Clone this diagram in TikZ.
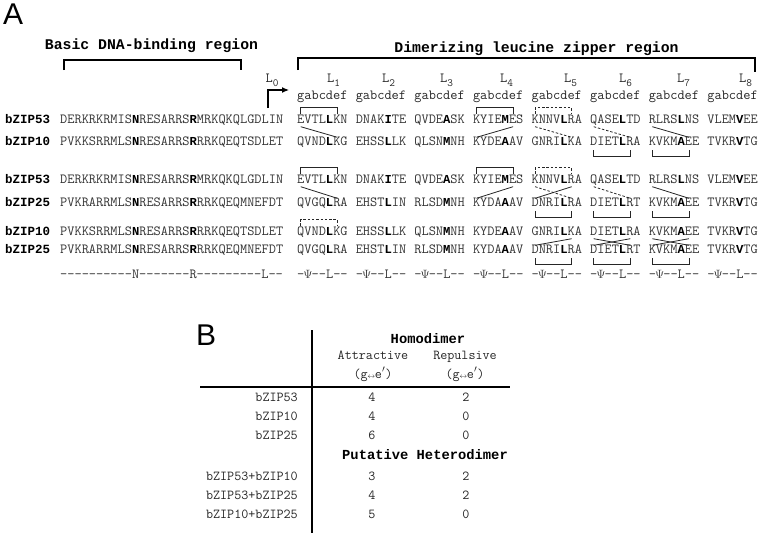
\documentclass[tikz,border=0pt]{standalone}
\usepackage{fontspec}
\newfontfamily\sansA{Liberation Sans}
\newfontfamily\courB{Liberation Mono}
\usetikzlibrary{arrows.meta}
\newcommand\bl[1]{{\fontsize{12.2}{14}\courB\bfseries\color{black}#1}}
\newcommand\hy{\mbox{-}}
\newcommand\Ps{\makebox[0.525em][c]{\fontsize{11.5}{11}\selectfont$\Psi$}}
\newcommand\seqrow[5]{%
  \node[lbl] (lab#1) at (5,#2) {#3};%
  \node[seq] (nt#1) at (60,#2) {#4};%
  \foreach \t [count=\i] in {#5} {\node[seq] (r#1h\i) at ({297+58.6*(\i-1)},#2) {\t};}%
}
\newcommand\GtoE[3][]{\draw[cn,#1] ([xshift=3.7pt]#2.south west) -- ([xshift=40.3pt]#3.north west);}
\newcommand\EtoG[3][]{\draw[cn,#1] ([xshift=40.3pt]#2.south west) -- ([xshift=3.7pt]#3.north west);}
\newcommand\BrUp[2][]{\draw[cn,#1] ([xshift=3.7pt,yshift=1.5pt]#2.north west) -- ++(0,6) -| ([xshift=40.3pt,yshift=1.5pt]#2.north west);}
\newcommand\BrDn[2][]{\draw[cn,#1] ([xshift=3.7pt,yshift=-1.5pt]#2.south west) -- ++(0,-6) -| ([xshift=40.3pt,yshift=-1.5pt]#2.south west);}
\begin{document}
\begin{tikzpicture}[x=1pt,y=1pt,
  seq/.style={anchor=base west,inner sep=0pt,text height=8pt,text depth=3pt,font=\ttfamily\fontsize{13.95}{16}\selectfont,text=black!80},
  hdr/.style={anchor=base west,inner sep=0pt,font=\ttfamily\fontsize{13.95}{16}\selectfont,text=black!85},
  lbl/.style={anchor=base west,inner sep=0pt,font=\courB\bfseries\fontsize{12.5}{14}\selectfont},
  ttl/.style={anchor=base,inner sep=0pt,font=\courB\bfseries\fontsize{14.8}{16}\selectfont},
  big/.style={anchor=base west,inner sep=0pt,font=\sansA\fontsize{30}{30}\selectfont},
  cn/.style={line width=0.8pt,black!85},
  dsh/.style={dash pattern=on 2.5pt off 1.8pt},
  bigbr/.style={line width=1.3pt},
  tb/.style={anchor=base,inner sep=0pt,font=\ttfamily\fontsize{13.7}{15}\selectfont,text=black!85},
  tbr/.style={anchor=base east,inner sep=0pt,font=\ttfamily\fontsize{13.7}{15}\selectfont,text=black!85},
  tbh/.style={anchor=base,inner sep=0pt,font=\courB\bfseries\fontsize{13.8}{16}\selectfont},
  tl/.style={line width=1.3pt}]
\useasboundingbox (0,0) rectangle (760,-536);

% ---------- Panel A ----------
\node[big] (A) at (3,-24) {A};
\node[ttl] (basic) at (151.5,-49) {Basic DNA-binding region};
\node[ttl] (dimer) at (536.5,-52) {Dimerizing leucine zipper region};
\draw[bigbr] (64,-70) |- (241,-60) -- (241,-70);
\draw[bigbr] (298,-70) |- (755,-58) -- (755,-72);

% heptad header
\foreach \i in {1,...,8} {\node[hdr] (hd\i) at ({297+58.6*(\i-1)},-99.5) {gabcdef};}
\foreach \i/\x in {0/265.5,1/327,2/382,3/440,4/500,5/564,6/619,7/677,8/739}
  {\node[hdr] (L\i) at (\x,-82) {L\raisebox{-4pt}{\fontsize{11}{11}\selectfont\i}};}
\coordinate (a0) at (268,-108);
\coordinate (a1) at (289,-90);
\draw[line width=1.2pt,-{Latex[length=7pt,width=6pt]}] (a0) |- (a1);

% sequences
\seqrow{1}{-123.5}{bZIP53}{DERKRKRMIS\bl{N}RESARRS\bl{R}MRKQKQLGDLIN}
  {EVTL\bl{L}KN,DNAK\bl{I}TE,QVDE\bl{A}SK,KYIE\bl{M}ES,KNNV\bl{L}RA,QASE\bl{L}TD,RLRS\bl{L}NS,VLEM\bl{V}EE}
\seqrow{2}{-145.5}{bZIP10}{PVKKSRRMLS\bl{N}RESARRS\bl{R}RRKQEQTSDLET}
  {QVND\bl{L}KG,EHSS\bl{L}LK,QLSN\bl{M}NH,KYDE\bl{A}AV,GNRI\bl{L}KA,DIET\bl{L}RA,KVKM\bl{A}EE,TVKR\bl{V}TG}
\seqrow{3}{-183.5}{bZIP53}{DERKRKRMIS\bl{N}RESARRS\bl{R}MRKQKQLGDLIN}
  {EVTL\bl{L}KN,DNAK\bl{I}TE,QVDE\bl{A}SK,KYIE\bl{M}ES,KNNV\bl{L}RA,QASE\bl{L}TD,RLRS\bl{L}NS,VLEM\bl{V}EE}
\seqrow{4}{-206.5}{bZIP25}{PVKRARRMLS\bl{N}RESARRS\bl{R}RRKQEQMNEFDT}
  {QVGQ\bl{L}RA,EHST\bl{L}IN,RLSD\bl{M}NH,KYDA\bl{A}AV,DNRI\bl{L}RA,DIET\bl{L}RT,KVKM\bl{A}EE,TVKR\bl{V}TG}
\seqrow{5}{-235.5}{bZIP10}{PVKKSRRMLS\bl{N}RESARRS\bl{R}RRKQEQTSDLET}
  {QVND\bl{L}KG,EHSS\bl{L}LK,QLSN\bl{M}NH,KYDE\bl{A}AV,GNRI\bl{L}KA,DIET\bl{L}RA,KVKM\bl{A}EE,TVKR\bl{V}TG}
\seqrow{6}{-253.5}{bZIP25}{PVKRARRMLS\bl{N}RESARRS\bl{R}RRKQEQMNEFDT}
  {QVGQ\bl{L}RA,EHST\bl{L}IN,RLSD\bl{M}NH,KYDA\bl{A}AV,DNRI\bl{L}RA,DIET\bl{L}RT,KVKM\bl{A}EE,TVKR\bl{V}TG}

% consensus
\node[seq] (cons) at (60,-278.5) {\hy\hy\hy\hy\hy\hy\hy\hy\hy\hy N\hy\hy\hy\hy\hy\hy\hy R\hy\hy\hy\hy\hy\hy\hy\hy\hy L\hy\hy};
\foreach \i in {1,...,8} {\node[seq] (c\i) at ({297+58.6*(\i-1)},-278.5) {\hy\Ps\hy\hy L\hy\hy};}

% pair 1: bZIP53 / bZIP10
\BrUp{r1h1} \GtoE{r1h1}{r2h1}
\BrUp{r1h4} \EtoG{r1h4}{r2h4}
\BrUp[dsh]{r1h5} \GtoE[dsh]{r1h5}{r2h5}
\GtoE[dsh]{r1h6}{r2h6} \BrDn{r2h6}
\GtoE{r1h7}{r2h7} \BrDn{r2h7}

% pair 2: bZIP53 / bZIP25
\BrUp{r3h1} \GtoE{r3h1}{r4h1}
\BrUp{r3h4} \EtoG{r3h4}{r4h4}
\BrUp[dsh]{r3h5} \GtoE[dsh]{r3h5}{r4h5} \EtoG{r3h5}{r4h5} \BrDn{r4h5}
\GtoE[dsh]{r3h6}{r4h6} \BrDn{r4h6}
\GtoE{r3h7}{r4h7} \BrDn{r4h7}

% pair 3: bZIP10 / bZIP25
\BrUp[dsh]{r5h1}
\EtoG{r5h5}{r6h5}
\GtoE{r5h6}{r6h6} \EtoG{r5h6}{r6h6}
\GtoE{r5h7}{r6h7} \EtoG{r5h7}{r6h7}
\BrDn{r6h5} \BrDn{r6h6} \BrDn{r6h7}

% ---------- Panel B ----------
\node[big] (B) at (196,-345) {B};
\draw[tl] (312,-330) -- (312,-533);
\draw[tl] (200,-387) -- (510,-387);
\node[tbh] (homo) at (428,-343.5) {Homodimer};
\node[tb] (attr) at (373,-359.5) {Attractive};
\node[tb] (rep) at (465,-359.5) {Repulsive};
\node[tb] (ge1) at (373,-378) {(g\makebox[0.525em]{\fontsize{7}{7}\selectfont$\leftrightarrow$}e$'$)};
\node[tb] (ge2) at (465,-378) {(g\makebox[0.525em]{\fontsize{7}{7}\selectfont$\leftrightarrow$}e$'$)};
\node[tbh] (hetero) at (425,-459.5) {Putative Heterodimer};
\foreach \n/\y/\s/\a/\r in {1/401.5/bZIP53/4/2, 2/420/bZIP10/4/0, 3/439/bZIP25/6/0,
                         4/480/bZIP53+bZIP10/3/2, 5/499/bZIP53+bZIP25/4/2, 6/518/bZIP10+bZIP25/5/0}
{
  \node[tbr] (rl\n) at (298,-\y) {\s};
  \node[tb] (ra\n) at (372,-\y) {\a};
  \node[tb] (rr\n) at (466,-\y) {\r};
}
\end{tikzpicture}
\end{document}
